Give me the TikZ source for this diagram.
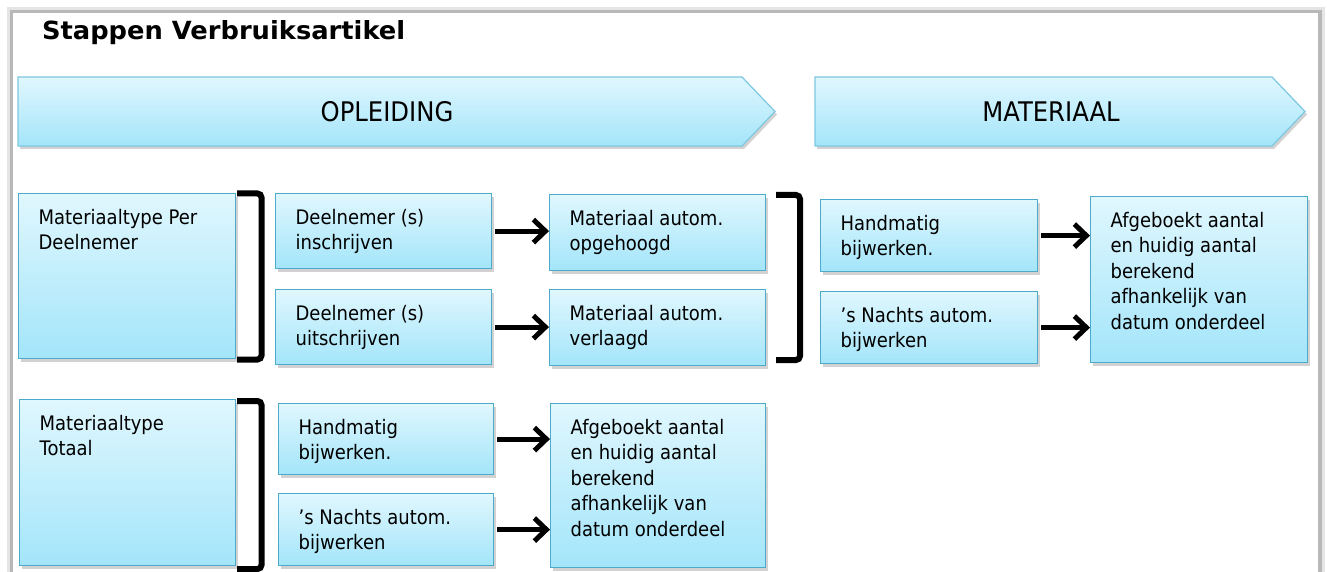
\documentclass[tikz,border=0pt]{standalone}
\usepackage{fontspec}
\setmainfont{DejaVu Sans}[FakeStretch=0.9]
\newfontfamily\titlefont{DejaVu Sans}[FakeStretch=1.03]
\usepackage{tikz}
\usetikzlibrary{arrows.meta,shadows}

\definecolor{celltop}{HTML}{E0F7FE}
\definecolor{cellbot}{HTML}{A3E5FA}
\definecolor{cellline}{HTML}{4EAACB}
\definecolor{hdrline}{HTML}{7CC8E2}

% text block of a cell: width, height (pt), lines
\newcommand{\celltext}[3]{\parbox[t][#2pt][t]{#1pt}{\raggedright\strut#3}}

\tikzset{
  cell/.style={draw=cellline, line width=1.2pt, top color=celltop, bottom color=cellbot,
    anchor=north west, inner xsep=20pt, inner ysep=13pt,
    drop shadow={shadow xshift=2pt, shadow yshift=-3pt, opacity=.35}},
  hdr/.style={draw=hdrline, line width=1.2pt, top color=celltop, bottom color=cellbot,
    drop shadow={shadow xshift=2pt, shadow yshift=-3pt, opacity=.35}},
  hdrtext/.style={anchor=base, font=\fontsize{27}{30}\selectfont},
  flow/.style={line width=5pt, -{Straight Barb[length=12pt,width=23pt]}},
  brack/.style={line width=6pt, rounded corners=4pt},
}

\begin{document}
\begin{tikzpicture}[x=1pt,y=-1pt,font=\fontsize{20}{25.5}\selectfont]
\useasboundingbox (0,0) rectangle (1327,572);
% page with its shadow
\fill[white] (0,0) rectangle (1327,572);
\fill[black!10] (7,7) rectangle (1325,572);
\fill[black!28] (10,10) rectangle (1322,572);
\fill[white] (13,13) rectangle (1318,572);

\node[anchor=base west, font=\titlefont\bfseries\fontsize{25}{28}\selectfont] (title) at (38.5,40) {Stappen Verbruiksartikel};

% headers
\path[hdr] (18,77) -- (742,77) -- (775,111.5) -- (742,146) -- (18,146) -- cycle;
\node[hdrtext] (opl) at (387,122) {OPLEIDING};
\path[hdr] (815,77) -- (1272,77) -- (1305,111.5) -- (1272,146) -- (815,146) -- cycle;
\node[hdrtext] (mat) at (1051,122) {MATERIAAL};

% per deelnemer
\node[cell] (A) at (18,193) {\celltext{177}{139}{Materiaaltype Per\\Deelnemer}};
\node[cell] (B1) at (275,193) {\celltext{176}{49}{Deelnemer (s)\\inschrijven}};
\node[cell] (B2) at (275,289) {\celltext{176}{49}{Deelnemer (s)\\uitschrijven}};
\node[cell] (C1) at (549,194) {\celltext{176}{50}{Materiaal autom.\\opgehoogd}};
\node[cell] (C2) at (549,289) {\celltext{176}{50}{Materiaal autom.\\verlaagd}};
\node[cell] (D1) at (820,199) {\celltext{177}{46}{Handmatig\\bijwerken.}};
\node[cell] (D2) at (820,291) {\celltext{177}{46}{’s Nachts autom.\\bijwerken}};
\node[cell] (E) at (1090,196) {\celltext{177}{140}{Afgeboekt aantal\\en huidig aantal\\berekend\\afhankelijk van\\datum onderdeel}};

% totaal
\node[cell] (F) at (19,399) {\celltext{176}{140}{Materiaaltype\\Totaal}};
\node[cell] (G1) at (278,403) {\celltext{175}{45}{Handmatig\\bijwerken.}};
\node[cell] (G2) at (278,493) {\celltext{175}{46}{’s Nachts autom.\\bijwerken}};
\node[cell] (H) at (550,403) {\celltext{175}{138}{Afgeboekt aantal\\en huidig aantal\\berekend\\afhankelijk van\\datum onderdeel}};

% brackets
\draw[brack] (237,193.5) -- (261.5,193.5) -- (261.5,359.5) -- (237,359.5);
\draw[brack] (776,195) -- (800,195) -- (800,360) -- (776,360);
\draw[brack] (237,401) -- (261.5,401) -- (261.5,569) -- (237,569);

% arrows
\draw[flow] ([xshift=3pt]B1.east) -- (B1.east -| C1.west);
\draw[flow] ([xshift=3pt]B2.east) -- (B2.east -| C2.west);
\draw[flow] ([xshift=3pt]D1.east) -- (D1.east -| E.west);
\draw[flow] ([xshift=3pt]D2.east) -- (D2.east -| E.west);
\draw[flow] ([xshift=3pt]G1.east) -- (G1.east -| H.west);
\draw[flow] ([xshift=3pt]G2.east) -- (G2.east -| H.west);
\end{tikzpicture}
\end{document}
